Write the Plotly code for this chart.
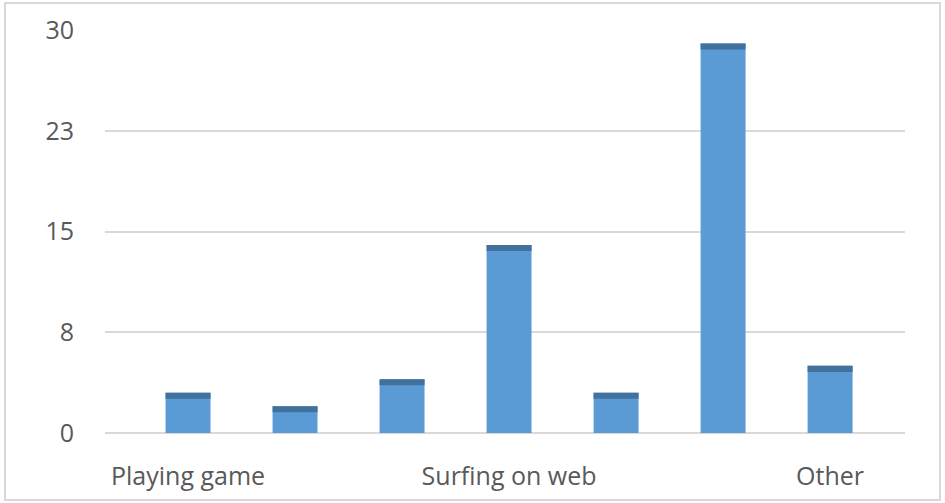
import plotly.graph_objects as go

# Data
categories = ["Playing game", "", "", "Surfing on web", "", "", "Other"]
values = [3, 2, 4, 14, 3, 29, 5]
x_tick_positions = [0, 3, 6]
x_tick_labels = ["Playing game", "Surfing on web", "Other"]
y_tick_values = [0, 7.5, 15, 22.5, 30]
y_tick_labels = ["0", "8", "15", "23", "30"]

positions = list(range(len(values)))

BAR_COLOR = "#5b9bd5"
TOP_COLOR = "#41719c"
TOP_DEPTH = 0.45  # visual thickness of bar top face (axis units)
GRID = "#d9d9d9"
TEXT = "#595959"

fig = go.Figure()
fig.add_trace(go.Bar(
    x=positions, y=values, width=0.42,
    marker=dict(color=BAR_COLOR, line=dict(width=0)),
    hovertext=categories, showlegend=False,
))
fig.add_trace(go.Bar(
    x=positions, y=[TOP_DEPTH] * len(values), base=[v - TOP_DEPTH for v in values],
    width=0.42, marker=dict(color=TOP_COLOR, line=dict(width=0)),
    hoverinfo="skip", showlegend=False,
))

W, H = 945, 503
L, R, T, B = 105, 40, 30, 70
pw, ph = W - L - R, H - T - B

fig.add_shape(type="rect", xref="paper", yref="paper",
              x0=(5 - L) / pw, x1=(940 - L) / pw,
              y0=(H - B - 500) / ph, y1=(H - B - 3) / ph,
              line=dict(color=GRID, width=2), fillcolor="rgba(0,0,0,0)", layer="below")

fig.update_layout(
    width=W, height=H,
    margin=dict(l=L, r=R, t=T, b=B),
    paper_bgcolor="white", plot_bgcolor="white",
    barmode="overlay",
    font=dict(family="Open Sans", size=25, color=TEXT),
    xaxis=dict(
        range=[-0.776, 6.70], tickvals=x_tick_positions, ticktext=x_tick_labels,
        showgrid=False, zeroline=False, showline=False, ticks="",
        ticklabelstandoff=26, fixedrange=True,
    ),
    yaxis=dict(
        range=[0, 30], tickvals=y_tick_values, ticktext=y_tick_labels,
        showgrid=True, gridcolor=GRID, gridwidth=2,
        zeroline=True, zerolinecolor=GRID, zerolinewidth=2,
        showline=False, ticks="", ticklabelstandoff=30, fixedrange=True,
    ),
)

fig.write_html("out.html", config={"displayModeBar": False},
               post_script="document.body.style.margin='0';document.body.style.overflow='hidden';")
